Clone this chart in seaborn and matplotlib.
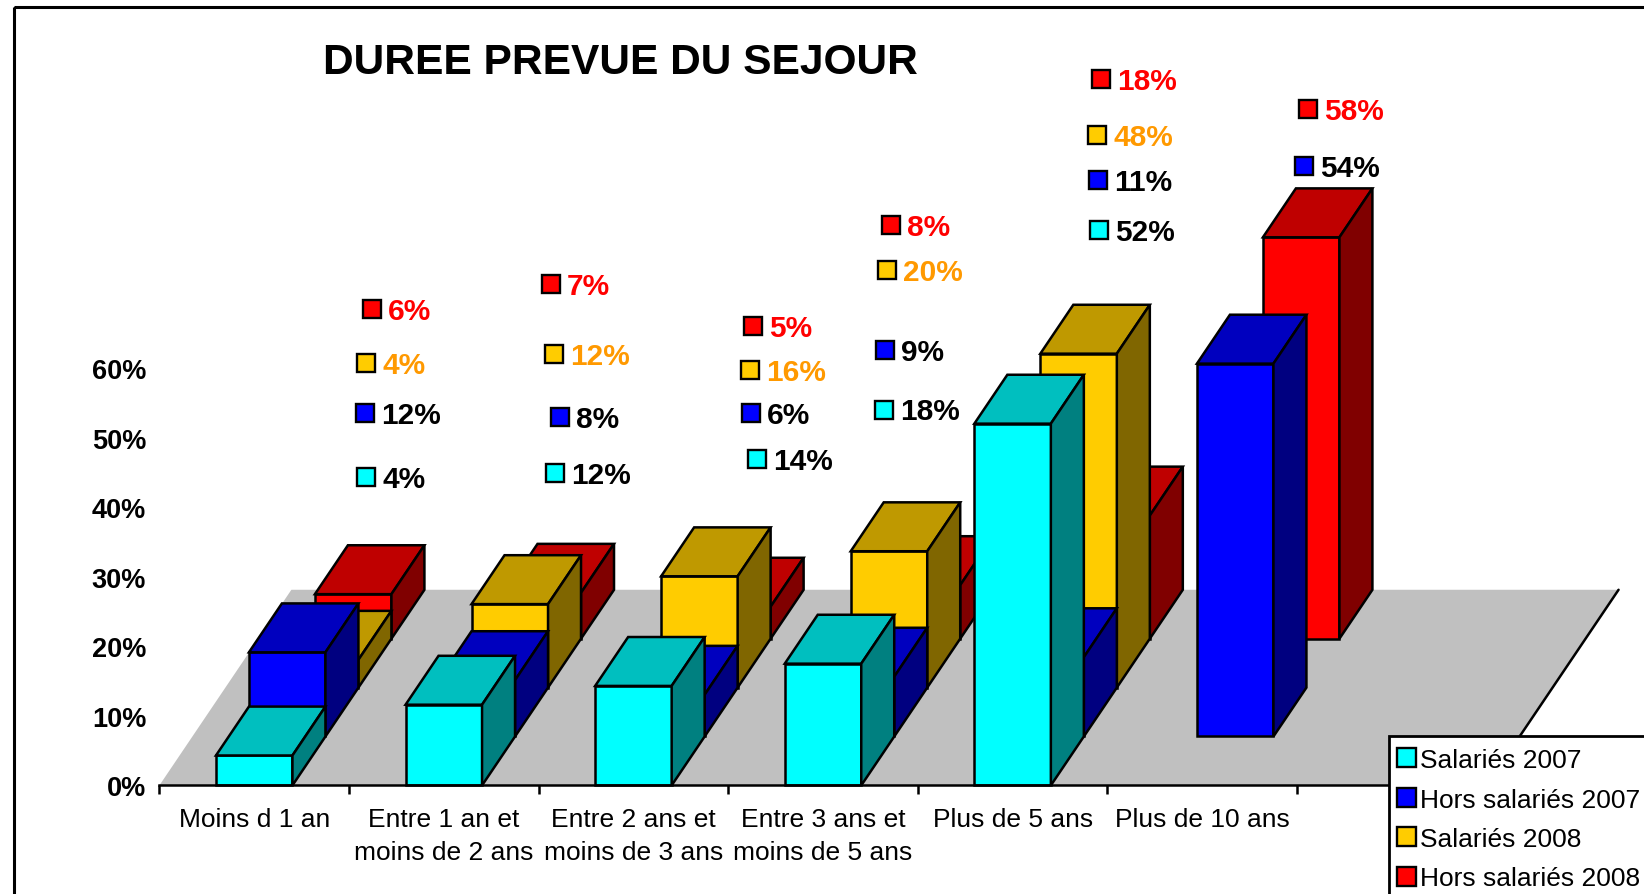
import matplotlib
matplotlib.use("Agg")
import matplotlib.pyplot as plt
import numpy as np
import pandas as pd
import seaborn as sns
from matplotlib.patches import Patch, Rectangle

categories = [
    "Moins d 1 an",
    "Entre 1 an et\nmoins de 2 ans",
    "Entre 2 ans et\nmoins de 3 ans",
    "Entre 3 ans et\nmoins de 5 ans",
    "Plus de 5 ans",
    "Plus de 10 ans",
]
series_names = ["Salariés 2007", "Hors salariés 2007", "Salariés 2008", "Hors salariés 2008"]
# the labels show them rounded
salaries_2007 = [4.3, 11.6, 14.3, 17.5, 52, 0]
hors_salaries_2007 = [12.1, 8.1, 6, 8.6, 11.4, 53.6]
salaries_2008 = [4, 12, 16, 19.6, 48, 0]
hors_salaries_2008 = [6.4, 6.6, 4.6, 7.7, 17.7, 57.7]
y_ticks = [0, 10, 20, 30, 40, 50, 60]

series_values = [salaries_2007, hors_salaries_2007, salaries_2008, hors_salaries_2008]
series_colors = ["#00FFFF", "#0000FF", "#FFCC00", "#FF0000"]
label_colors = ["black", "black", "#FF9900", "#FF0000"]

# hand placed data labels: key centre in figure pixels, one row per series
label_keys = [
    [(366, 477), (555, 473), (757, 459), (884, 410), (1099, 230), None],
    [(365, 413), (560, 417), (751, 413), (885, 350), (1098, 180), (1304, 166)],
    [(366, 363), (554, 354), (750, 370), (887, 270), (1097, 135), None],
    [(372, 309), (551, 284), (753, 326), (891, 225), (1101, 79), (1308, 109)],
]

# oblique projection of the depth axis, per series row
depth_dx = 0.174  # in categories
depth_dy = 7.03  # in percent
bar_width = 0.4035
n_slots = 7
lw = 1.8

sns.set_theme(style="white")
plt.rcParams["font.family"] = ["Liberation Sans", "DejaVu Sans"]
plt.rcParams["text.color"] = "black"
plt.rcParams["xtick.labelcolor"] = "black"
plt.rcParams["ytick.labelcolor"] = "black"

W, H = 1644, 895
fig = plt.figure(figsize=(W / 100, H / 100), dpi=100)
x_left, x_right, y_zero, y_sixty = 159.4, 1486.6, 786.4, 369.0
ax = fig.add_axes([x_left / W, 1 - y_zero / H, (x_right - x_left) / W, (y_zero - y_sixty) / H])
ax.patch.set_alpha(0)

# floor
ax.fill(
    [0, n_slots, n_slots + 4 * depth_dx, 4 * depth_dx],
    [0, 0, 4 * depth_dy, 4 * depth_dy],
    color="#C0C0C0",
    lw=0,
    clip_on=False,
)
ax.plot(
    [n_slots, n_slots + 4 * depth_dx],
    [0, 4 * depth_dy],
    color="black",
    lw=lw,
    clip_on=False,
)

# back row first so the front rows cover it
for row in [3, 2, 1, 0]:
    base = np.array(matplotlib.colors.to_rgb(series_colors[row]))
    top_c, side_c = base * 0.75, base * 0.5
    df = pd.DataFrame(
        {
            "pos": np.arange(len(categories)) + 0.5 + row * depth_dx,
            "value": series_values[row],
        }
    )
    df = df[df["value"] > 0]
    sns.barplot(
        data=df,
        x="pos",
        y="value",
        native_scale=True,
        width=bar_width,
        bottom=row * depth_dy,
        color=series_colors[row],
        saturation=1,
        errorbar=None,
        edgecolor="black",
        linewidth=lw,
        clip_on=False,
        ax=ax,
    )
    for pos, value in zip(df["pos"], df["value"]):
        x0, x1 = pos - bar_width / 2, pos + bar_width / 2
        y0, y1 = row * depth_dy, row * depth_dy + value
        ax.fill(
            [x0, x1, x1 + depth_dx, x0 + depth_dx],
            [y1, y1, y1 + depth_dy, y1 + depth_dy],
            facecolor=top_c,
            edgecolor="black",
            lw=lw,
            clip_on=False,
        )
        ax.fill(
            [x1, x1 + depth_dx, x1 + depth_dx, x1],
            [y0, y0 + depth_dy, y1 + depth_dy, y1],
            facecolor=side_c,
            edgecolor="black",
            lw=lw,
            clip_on=False,
        )

ax.set_xlim(0, n_slots)
ax.set_ylim(0, 60)
ax.set_xlabel("")
ax.set_ylabel("")
ax.set_yticks(y_ticks)
ax.set_yticklabels([f"{v}%" for v in y_ticks], fontweight="bold", fontsize=19.5)
ax.tick_params(axis="y", length=0, pad=9.5)
ax.set_xticks(range(n_slots + 1))
ax.set_xticklabels([])
ax.set_xticks(np.arange(len(categories)) + 0.5, categories, minor=True, fontsize=19, linespacing=1.5)
ax.tick_params(axis="x", which="major", length=6.5, width=lw, color="black", bottom=True)
ax.tick_params(axis="x", which="minor", length=0, pad=15.2)
sns.despine(ax=ax, left=True)
ax.spines["bottom"].set_color("black")
ax.spines["bottom"].set_linewidth(lw)
ax.grid(False)

# overlay in figure pixels: frame, title, hand placed labels, legend
over = fig.add_axes([0, 0, 1, 1], zorder=5)
over.set_xlim(0, W)
over.set_ylim(H, 0)
over.axis("off")
over.add_patch(Rectangle((13.5, 7.5), W + 40, H + 40, fill=False, edgecolor="black", lw=2.2, clip_on=False))
over.text(620.5, 63, "DUREE PREVUE DU SEJOUR", ha="center", va="center", fontsize=30.6, fontweight="bold", color="black")

for row, keys in enumerate(label_keys):
    for cat, key in enumerate(keys):
        if key is None:
            continue
        over.plot(
            key[0], key[1] + 1, marker="s", ms=12.5, mfc=series_colors[row], mec="black", mew=1.7, ls="none"
        )
        over.text(
            key[0] + 16,
            key[1] - 0.5,
            f"{series_values[row][cat]:.0f}%",
            ha="left",
            va="center_baseline",
            fontsize=21.5,
            fontweight="bold",
            color=label_colors[row],
        )

# legend box runs past the figure edge, so its frame is drawn apart from the entries
over.add_patch(Rectangle((1389, 737), W, H, facecolor="white", edgecolor="black", lw=2, clip_on=True))
handles = [Patch(facecolor=c, edgecolor="black", lw=1.7, label=n) for c, n in zip(series_colors, series_names)]
leg = over.legend(
    handles=handles,
    loc="upper left",
    bbox_to_anchor=(1386 / W, 1 - 738 / H),
    bbox_transform=fig.transFigure,
    fontsize=19,
    frameon=False,
    handlelength=0.72,
    handleheight=0.72,
    handletextpad=0.14,
    labelspacing=0.586,
    borderpad=0.42,
    borderaxespad=0,
    labelcolor="black",
)

fig.savefig("out.png", dpi=100)
